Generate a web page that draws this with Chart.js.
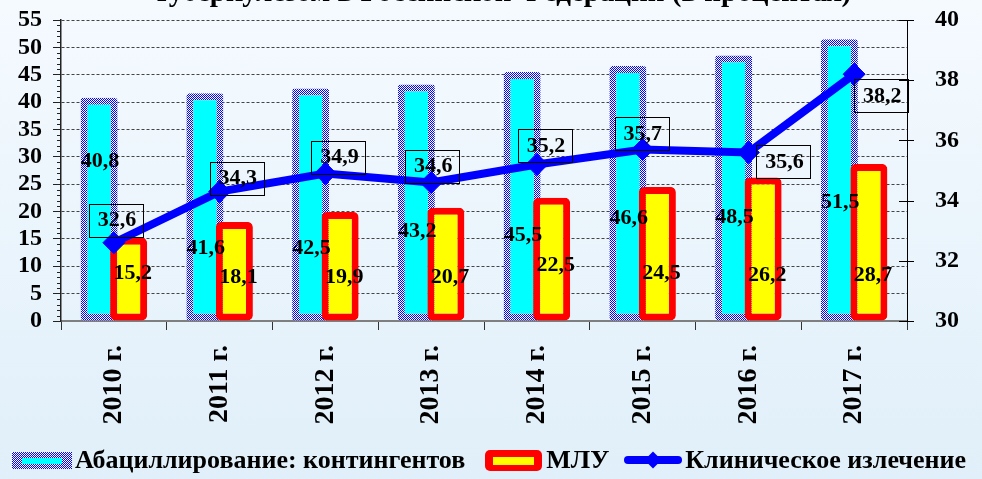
<!DOCTYPE html>
<html>
<head>
<meta charset="utf-8">
<script src="https://cdn.jsdelivr.net/npm/chart.js@4.4.1/dist/chart.umd.min.js"></script>
<style>
    html, body { margin: 0; padding: 0; width: 982px; height: 479px; overflow: hidden; }
    body { background: linear-gradient(#f5faff, #e0eff9); }
    #wrap { position: relative; width: 982px; height: 479px; }
    canvas { display: block; }
    #legend {
        position: absolute; left: 12px; top: 446px; height: 28px;
        display: flex; align-items: center; white-space: nowrap;
        font: bold 26px "Liberation Serif", serif; color: #000;
    }
    .sw { flex: none; position: relative; }
    .sw-abac {
        width: 60px; height: 17px; margin-right: 3px;
        background: repeating-conic-gradient(#0000ff 0 25%, #fff 0 50%) 0 0 / 2px 2px;
    }
    .sw-abac::after {
        content: ""; position: absolute; left: 10px; right: 10px; top: 6px; bottom: 5px; background: #00ffff;
    }
    .sw-mlu { width: 57px; height: 21px; background: #ff0000; border-radius: 5px; margin-left: 20px; margin-right: 4px; }
    .sw-mlu::after {
        content: ""; position: absolute; left: 8px; right: 8px; top: 7px; bottom: 6px; background: #ffff00;
    }
    .sw-cure { width: 58px; height: 20px; margin-left: 15px; margin-right: 3px; }
    .sw-cure::before {
        content: ""; position: absolute; left: 0; right: 0; top: 6px; height: 8px; background: #0000ff; border-radius: 4px;
    }
    .sw-cure::after {
        content: ""; position: absolute; left: 23px; top: 4px; width: 12px; height: 12px; background: #0000ff; transform: rotate(45deg);
    }
</style>
</head>
<body>
<div id="wrap">
    <canvas id="chart" width="982" height="479"></canvas>
    <div id="legend">
        <span class="sw sw-abac"></span><span>Абациллирование: контингентов</span>
        <span class="sw sw-mlu"></span><span>МЛУ</span>
        <span class="sw sw-cure"></span><span>Клиническое излечение</span>
    </div>
</div>
<script>
    // data
    const years = ["2010 г.", "2011 г.", "2012 г.", "2013 г.", "2014 г.", "2015 г.", "2016 г.", "2017 г."];
    const abacill = [40.8, 41.6, 42.5, 43.2, 45.5, 46.6, 48.5, 51.5];
    const mlu = [15.2, 18.1, 19.9, 20.7, 22.5, 24.5, 26.2, 28.7];
    const cure = [32.6, 34.3, 34.9, 34.6, 35.2, 35.7, 35.6, 38.2];

    const titleText = "туберкулезом в Российской Федерации (в процентах)";

    // where the value labels sit (left axis units / pixel offsets from the point)
    const abacillLabelAt = [29.1, 13.3, 13.3, 16.3, 15.7, 18.8, 19.0, 21.7];
    const mluLabelAt = [8.8, 7.9, 7.9, 8.0, 10.2, 8.8, 8.4, 8.4];
    const cureLabelOffset = [[2, -23], [17, -14], [13, -17], [1, -17], [8, -19], [-1, -16], [35, 9], [27, 21]];

    const canvas = document.getElementById("chart");
    const ctx = canvas.getContext("2d");

    // blue / white checker for the contingent bars
    const pc = document.createElement("canvas");
    pc.width = 2; pc.height = 2;
    const pctx = pc.getContext("2d");
    pctx.fillStyle = "#fff"; pctx.fillRect(0, 0, 2, 2);
    pctx.fillStyle = "#0000ff"; pctx.fillRect(0, 0, 1, 1); pctx.fillRect(1, 1, 1, 1);
    const checker = ctx.createPattern(pc, "repeat");

    const fmt = v => v.toFixed(1).replace(".", ",");
    const labelFont = 'bold 22px "Liberation Serif", serif';

    // the MLU bars sit right of the contingent bars but are painted over them
    const barOrder = {
        id: "barOrder",
        beforeDatasetDraw(chart, args) {
            if (args.index === 1) return false;
        },
        afterDatasetDraw(chart, args) {
            if (args.index === 0) chart.getDatasetMeta(1).controller.draw();
        }
    };

    const extras = {
        id: "extras",
        afterDraw(chart) {
            const c = chart.ctx;
            const yL = chart.scales.y;
            const yR = chart.scales.yR;
            c.save();

            // title, cut off by the top edge as in the source
            c.fillStyle = "#000";
            c.font = 'bold 29px "Liberation Serif", serif';
            c.textAlign = "center";
            c.textBaseline = "alphabetic";
            c.fillText(titleText, 503, 1);

            // minor ticks on the left axis
            c.strokeStyle = "#222";
            c.lineWidth = 1;
            c.beginPath();
            for (let v = 0; v <= 55; v++) {
                if (v % 5 === 0) continue;
                const y = Math.round(yL.getPixelForValue(v)) + 0.5;
                c.moveTo(yL.right - 4, y);
                c.lineTo(yL.right, y);
            }
            c.stroke();

            // right axis ticks crossing the axis line
            c.strokeStyle = "#000";
            c.beginPath();
            for (let v = 30; v <= 40; v += 2) {
                const y = Math.round(yR.getPixelForValue(v)) + 0.5;
                c.moveTo(yR.left - 8, y);
                c.lineTo(yR.left + 7, y);
            }
            c.stroke();

            // value labels
            c.font = labelFont;
            c.textAlign = "center";
            c.textBaseline = "middle";
            c.fillStyle = "#000";
            const m0 = chart.getDatasetMeta(0);
            const m1 = chart.getDatasetMeta(1);
            const m2 = chart.getDatasetMeta(2);
            abacill.forEach((v, i) => {
                c.fillText(fmt(v), m0.data[i].x + 1, yL.getPixelForValue(abacillLabelAt[i]));
            });
            mlu.forEach((v, i) => {
                c.fillText(fmt(v), m1.data[i].x + 4, yL.getPixelForValue(mluLabelAt[i]));
            });
            cure.forEach((v, i) => {
                const p = m2.data[i];
                const cx = p.x + cureLabelOffset[i][0];
                const cy = p.y + cureLabelOffset[i][1];
                c.strokeStyle = "#000";
                c.lineWidth = 1;
                c.strokeRect(Math.round(cx - 27) + 0.5, Math.round(cy - 16) + 0.5, 54, 33);
                c.fillText(fmt(v), cx + 1, cy + 1);
            });
            c.restore();
        }
    };

    // fixed axis sizes, and no extra room for the end labels
    const fitY = w => s => {
        s.width = w;
        s.paddingTop = 0;
        s.paddingBottom = 0;
    };

    new Chart(ctx, {
        data: {
            labels: years,
            datasets: [
                {
                    type: "bar",
                    label: "Абациллирование: контингентов",
                    data: abacill,
                    yAxisID: "y",
                    backgroundColor: "#00ffff",
                    borderColor: checker,
                    borderWidth: 7,
                    borderSkipped: false,
                    borderRadius: 3,
                    categoryPercentage: 0.558,
                    barPercentage: 1.254,
                    order: 2
                },
                {
                    type: "bar",
                    label: "МЛУ",
                    data: mlu,
                    yAxisID: "y",
                    backgroundColor: "#ffff00",
                    borderColor: "#ff0000",
                    borderWidth: 7,
                    borderSkipped: false,
                    borderRadius: 5,
                    categoryPercentage: 0.558,
                    barPercentage: 1.254,
                    order: 3
                },
                {
                    type: "line",
                    label: "Клиническое излечение",
                    data: cure,
                    yAxisID: "yR",
                    borderColor: "#0000ff",
                    backgroundColor: "#0000ff",
                    borderWidth: 8,
                    tension: 0,
                    pointStyle: "rectRot",
                    pointRadius: 11,
                    pointBackgroundColor: "#0000ff",
                    pointBorderColor: "#0000ff",
                    pointBorderWidth: 1,
                    order: 1
                }
            ]
        },
        options: {
            responsive: false,
            animation: false,
            events: [],
            layout: { padding: { top: 20, left: 0, right: 0, bottom: 0 } },
            plugins: {
                legend: { display: false },
                tooltip: { enabled: false },
                title: { display: false }
            },
            scales: {
                x: {
                    afterFit: s => { s.height = 158; },
                    grid: { offset: true, drawOnChartArea: false, tickLength: 9, color: "#333", lineWidth: 1 },
                    border: { color: "#7f7f7f", width: 2 },
                    ticks: {
                        autoSkip: false,
                        maxRotation: 90,
                        minRotation: 90,
                        padding: 15,
                        color: "#000",
                        font: { family: "Liberation Serif", weight: "bold", size: 28 }
                    }
                },
                y: {
                    position: "left",
                    min: 0,
                    max: 55,
                    afterFit: fitY(61),
                    grid: {
                        color: ctx2 => ctx2.tick && ctx2.tick.value === 0 ? "rgba(0,0,0,0)" : "#444",
                        lineWidth: 1,
                        tickLength: 8,
                        tickColor: "#222",
                        tickBorderDash: []
                    },
                    border: { color: "#222", width: 1.5, dash: [3, 2] },
                    ticks: {
                        stepSize: 5,
                        autoSkip: false,
                        padding: 11,
                        color: "#000",
                        font: { family: "Liberation Serif", weight: "bold", size: 24 }
                    }
                },
                yR: {
                    position: "right",
                    min: 30,
                    max: 40,
                    afterFit: fitY(75),
                    grid: { display: false },
                    border: { display: true, color: "#000", width: 1 },
                    ticks: {
                        stepSize: 2,
                        autoSkip: false,
                        padding: 20,
                        color: "#000",
                        font: { family: "Liberation Serif", weight: "bold", size: 24 }
                    }
                }
            }
        },
        plugins: [barOrder, extras]
    });
</script>
</body>
</html>
